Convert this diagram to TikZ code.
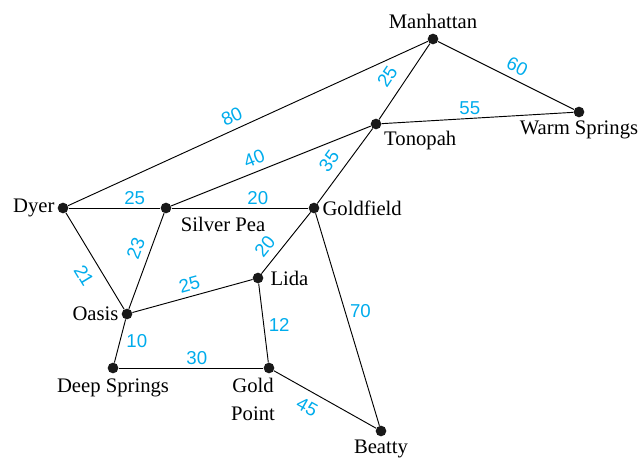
\documentclass[tikz,border=0pt]{standalone}
\usepackage{fontspec}
\setmainfont{Liberation Serif}
\newfontfamily\numfont{Liberation Sans}
\definecolor{wcyan}{RGB}{0,172,236}

\begin{document}
\begin{tikzpicture}[
  x=0.75pt, y=-0.75pt,
  town/.style={circle, fill=black!90, inner sep=0pt, minimum size=8pt,
               label distance=1pt},
  road/.style={draw=black, line width=0.7pt},
  wt/.style={text=wcyan, font=\numfont\fontsize{14}{16}\selectfont, inner sep=2.5pt},
  every label/.style={font=\fontsize{15.5}{21}\selectfont, inner sep=2pt}
]
  \useasboundingbox (0,0) rectangle (641,459);

  % ===== Towns =====
  \node[town, label={[yshift=1pt]above:Manhattan}] (manhattan) at (433,39) {};
  \node[town, label=below:Warm Springs]       (warm)      at (579,112) {};
  \node[town, label={[xshift=1pt]below right:Tonopah}] (tonopah) at (376,124) {};
  \node[town, label=left:Dyer]                (dyer)      at (63,208) {};
  \node[town, label={[xshift=6pt,yshift=-2pt]below right:Silver Pea}] (silver) at (166,208) {};
  \node[town, label=right:Goldfield]          (goldfield) at (314,208) {};
  \node[town, label={[xshift=3pt]right:Lida}] (lida)      at (258,278) {};
  \node[town, label=left:Oasis]               (oasis)     at (127,314) {};
  \node[town, label={[yshift=-2pt]below:Deep Springs}] (deep) at (113,368) {};
  \node[town, label={[align=center,xshift=-12pt,yshift=-1pt]below:Gold\\Point}] (gold) at (269,368) {};
  \node[town, label=below:Beatty]             (beatty)    at (381,431) {};

  % ===== Roads with distances =====
  \draw[road] (dyer) -- node[wt, pos=0.47, sloped, above=2pt] {80} (manhattan);
  \draw[road] (manhattan) -- node[wt, pos=0.54, sloped, above=2pt] {60} (warm);
  \draw[road] (tonopah) -- node[wt, pos=0.44, sloped, above=5pt] {25} (manhattan);
  \draw[road] (tonopah) -- node[wt, pos=0.46, above] {55} (warm);
  \draw[road] (silver) -- node[wt, pos=0.44, sloped, above=2pt] {40} (tonopah);
  \draw[road] (goldfield) -- node[wt, pos=0.44, sloped, above=4pt] {35} (tonopah);
  \draw[road] (dyer) -- node[wt, pos=0.72, above] {25} (silver);
  \draw[road] (silver) -- node[wt, pos=0.63, above] {20} (goldfield);
  \draw[road] (dyer) -- node[wt, pos=0.56, sloped, below=5pt] {21} (oasis);
  \draw[road] (oasis) -- node[wt, pos=0.58, sloped, above=3pt] {23} (silver);
  \draw[road] (lida) -- node[wt, pos=0.3, sloped, above=3pt] {20} (goldfield);
  \draw[road] (oasis) -- node[wt, pos=0.5, sloped, above=1pt] {25} (lida);
  \draw[road] (goldfield) -- node[wt, pos=0.46, right=1pt] {70} (beatty);
  \draw[road] (lida) -- node[wt, pos=0.52, right=1pt] {12} (gold);
  \draw[road] (oasis) -- node[wt, pos=0.5, right=2pt] {10} (deep);
  \draw[road] (deep) -- node[wt, pos=0.54, above] {30} (gold);
  \draw[road] (gold) -- node[wt, pos=0.4, sloped, below=4pt] {45} (beatty);
\end{tikzpicture}
\end{document}
